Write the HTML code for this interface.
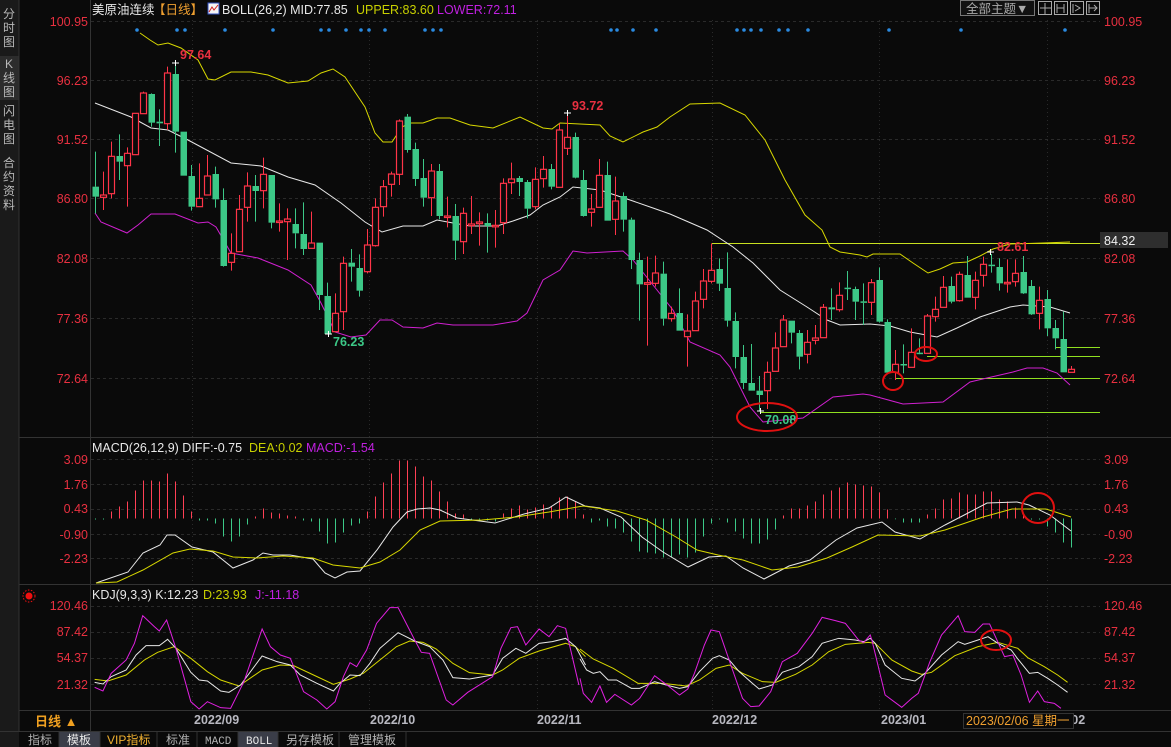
<!DOCTYPE html>
<html><head><meta charset="utf-8">
<style>
html,body{margin:0;padding:0;background:#0a0a0a;width:1171px;height:747px;overflow:hidden;}
svg{display:block;font-family:"Liberation Sans","Noto Sans CJK SC",sans-serif;}
</style></head>
<body>
<svg id="s" width="1171" height="747" viewBox="0 0 1171 747" xmlns="http://www.w3.org/2000/svg">
<rect width="1171" height="747" fill="#0a0a0a"/>
<!-- sidebar -->
<rect x="0" y="0" width="19" height="747" fill="#1a1a1a"/>
<rect x="0" y="56" width="19" height="44" fill="#2c2c2c"/>
<line x1="19" y1="0" x2="19" y2="732" stroke="#333"/>
<g fill="#b8b8b8" font-size="12" text-anchor="middle">
<text x="9" y="18">分</text><text x="9" y="32">时</text><text x="9" y="46">图</text>
<text x="9" y="68">K</text><text x="9" y="82">线</text><text x="9" y="96">图</text>
<text x="9" y="115">闪</text><text x="9" y="129">电</text><text x="9" y="143">图</text>
<text x="9" y="167">合</text><text x="9" y="181">约</text><text x="9" y="195">资</text><text x="9" y="209">料</text>
</g>
<g id="grid"></g>
<!-- panel lines -->
<g stroke="#333" stroke-width="1">
<line x1="90.5" y1="0" x2="90.5" y2="732"/>
<line x1="19" y1="437.5" x2="1171" y2="437.5"/>
<line x1="19" y1="584.5" x2="1171" y2="584.5"/>
<line x1="19" y1="710.5" x2="1171" y2="710.5"/>
<line x1="0" y1="731.5" x2="1171" y2="731.5"/>
</g>
<!-- header -->
<text x="92" y="14" font-size="12.5" fill="#e8e8e8">美原油连续</text>
<text x="153" y="14" font-size="12.5" fill="#f0a030">【日线】</text>
<rect x="208" y="3" width="11" height="11" fill="#f4f4f4" stroke="#3050c0"/>
<polyline points="209,12 212,7 214,10 218,5" fill="none" stroke="#d02020" stroke-width="1"/>
<text x="222" y="14" font-size="12.5" fill="#e8e8e8">BOLL(26,2) MID:77.85</text>
<text x="356" y="14" font-size="12.5" fill="#c8d000">UPPER:83.60</text>
<text x="437" y="14" font-size="12.5" fill="#c020e0">LOWER:72.11</text>
<rect x="960.5" y="0.5" width="74" height="15" fill="#111" stroke="#777"/>
<text x="966" y="13" font-size="12.5" fill="#aaa">全部主题▼</text>
<g fill="none" stroke="#aaa">
<rect x="1038.5" y="1.5" width="13" height="13"/><rect x="1054.5" y="1.5" width="13" height="13"/>
<rect x="1070.5" y="1.5" width="13" height="13"/><rect x="1086.5" y="1.5" width="13" height="13"/>
<path d="M1045 3v11M1040 8h11M1057 4v9M1064 4v9M1057 8h7M1073 4v9M1075 5l5 3-5 3M1089 4v9M1089 8h8M1094 5l3 3-3 3"/>
</g>
<!-- axis labels main -->
<g font-size="12.5" fill="#e83040">
<g text-anchor="end">
<text x="88" y="26">100.95</text><text x="88" y="85">96.23</text><text x="88" y="144">91.52</text>
<text x="88" y="203">86.80</text><text x="88" y="263">82.08</text><text x="88" y="323">77.36</text><text x="88" y="383">72.64</text>
<text x="88" y="464">3.09</text><text x="88" y="489">1.76</text><text x="88" y="513">0.43</text><text x="88" y="539">-0.90</text><text x="88" y="563">-2.23</text>
<text x="88" y="610">120.46</text><text x="88" y="636">87.42</text><text x="88" y="662">54.37</text><text x="88" y="689">21.32</text>
</g>
<text x="1104" y="26">100.95</text><text x="1104" y="85">96.23</text><text x="1104" y="144">91.52</text>
<text x="1104" y="203">86.80</text><text x="1104" y="263">82.08</text><text x="1104" y="323">77.36</text><text x="1104" y="383">72.64</text>
<text x="1104" y="464">3.09</text><text x="1104" y="489">1.76</text><text x="1104" y="513">0.43</text><text x="1104" y="539">-0.90</text><text x="1104" y="563">-2.23</text>
<text x="1104" y="610">120.46</text><text x="1104" y="636">87.42</text><text x="1104" y="662">54.37</text><text x="1104" y="689">21.32</text>
</g>
<g id="plot"></g>
<!-- annotations -->
<g font-size="12.5" font-weight="bold">
<text x="180" y="59" fill="#e83040">97.64</text>
<text x="572" y="110" fill="#e83040">93.72</text>
<text x="333" y="346" fill="#3cc887">76.23</text>
<text x="765" y="424" fill="#3cc887">70.08</text>
<text x="997" y="251" fill="#e83040">82.61</text>
</g>
<rect x="1100" y="232" width="68" height="16" fill="#2e2e2e"/>
<text x="1104" y="245" font-size="12.5" fill="#f0f0f0">84.32</text>
<g fill="none" stroke="#e01010" stroke-width="2">
<ellipse cx="767" cy="417" rx="30" ry="14"/>
<ellipse cx="893" cy="381" rx="10" ry="9"/>
<ellipse cx="926" cy="354" rx="11" ry="7"/>
<ellipse cx="1038" cy="508" rx="16" ry="15"/>
<ellipse cx="996" cy="640" rx="15" ry="10"/>
</g>
<!-- sub headers -->
<text x="92" y="452" font-size="12.5" fill="#e8e8e8">MACD(26,12,9) DIFF:-0.75</text>
<text x="249" y="452" font-size="12.5" fill="#c8d000">DEA:0.02</text>
<text x="306" y="452" font-size="12.5" fill="#c020e0">MACD:-1.54</text>
<text x="92" y="599" font-size="12.5" fill="#e8e8e8">KDJ(9,3,3) K:12.23</text>
<text x="203" y="599" font-size="12.5" fill="#c8d000">D:23.93</text>
<text x="255" y="599" font-size="12.5" fill="#c020e0">J:-11.18</text>
<circle cx="29" cy="596" r="3.5" fill="#f01010"/>
<circle cx="29" cy="596" r="6" fill="none" stroke="#f01010" stroke-dasharray="1.5,1.5"/>
<!-- date axis -->
<text x="35" y="726" font-size="13" font-weight="bold" fill="#f0a020">日线 ▲</text>
<g font-size="12.5" font-weight="bold" fill="#b8b8c0">
<text x="194" y="724">2022/09</text><text x="370" y="724">2022/10</text><text x="537" y="724">2022/11</text>
<text x="712" y="724">2022/12</text><text x="881" y="724">2023/01</text><text x="1040" y="724">2023/02</text>
</g>
<rect x="963.5" y="713.5" width="110" height="15" fill="#0a0a0a" stroke="#333"/>
<text x="966" y="725" font-size="12.5" fill="#f0a030">2023/02/06 星期一</text>
<!-- tabs -->
<rect x="59" y="732" width="41" height="15" fill="#3a3d48"/>
<rect x="238" y="732" width="40" height="15" fill="#3a3d48"/>
<g stroke="#333"><line x1="59" y1="732" x2="59" y2="747"/><line x1="100" y1="732" x2="100" y2="747"/><line x1="157" y1="732" x2="157" y2="747"/><line x1="197" y1="732" x2="197" y2="747"/><line x1="238" y1="732" x2="238" y2="747"/><line x1="278" y1="732" x2="278" y2="747"/><line x1="339" y1="732" x2="339" y2="747"/><line x1="406" y1="732" x2="406" y2="747"/></g>
<g font-size="12" fill="#b0b0b0">
<text x="28" y="744">指标</text><text x="67" y="744" fill="#e8e8e8">模板</text><text x="107" y="744" fill="#f0b030">VIP指标</text>
<text x="166" y="744">标准</text><text x="205" y="744" font-family="Liberation Mono" font-size="11">MACD</text>
<text x="246" y="744" font-family="Liberation Mono" font-size="11" fill="#e8e8e8">BOLL</text>
<text x="286" y="744">另存模板</text><text x="348" y="744">管理模板</text>
</g>
</svg>
<script>
var NS="http://www.w3.org/2000/svg";
var P=document.getElementById("plot"),GR=document.getElementById("grid");
function el(p,t,a){var e=document.createElementNS(NS,t);for(var k in a)e.setAttribute(k,a[k]);p.appendChild(e);return e;}
// grid
[21,80,139,198,258,318,378,459,484,509,534,558,606,632,658,684].forEach(function(y){el(GR,"line",{x1:91,x2:1100,y1:y+.5,y2:y+.5,stroke:"#2a2a2a","stroke-dasharray":"3,3"});});
[192,369,537,712,879,1047].forEach(function(x){el(GR,"line",{x1:x+.5,x2:x+.5,y1:20,y2:710,stroke:"#2a2a2a","stroke-dasharray":"1,3"});});
// dots
[137,177,185,225,273,321,329,346,361,369,385,425,433,441,611,617,633,656,737,744,751,761,779,788,808,889,961,1065].forEach(function(x){el(P,"circle",{cx:x,cy:30,r:1.8,fill:"#2a8ae0"});});
function pl(pts,c,w){el(P,"polyline",{points:pts.map(function(p){return p[0]+","+p[1];}).join(" "),fill:"none",stroke:c,"stroke-width":w||1});}
function zc(arr,ox,oy,sx,sy){return arr.map(function(p){return [ox+p[0]/sx,oy+p[1]/sy];});}
// horizontal marker lines
el(P,"line",{x1:712,x2:1100,y1:243.5,y2:243.5,stroke:"#c8e020"});
el(P,"line",{x1:760,x2:1100,y1:412.5,y2:412.5,stroke:"#90e020"});
el(P,"line",{x1:895,x2:1100,y1:378.5,y2:378.5,stroke:"#90e020"});
el(P,"line",{x1:927,x2:1100,y1:356.5,y2:356.5,stroke:"#90e020"});
el(P,"line",{x1:1055,x2:1100,y1:347.5,y2:347.5,stroke:"#90e020"});
// BOLL lines
var upper=[[140,33],[150,40],[158,45],[168,43],[181,48],[198,60],[208,79],[215,80],[231,72],[251,72],[268,75],[288,83],[308,81],[321,73],[333,69],[345,77],[365,107],[375,133],[383,142],[392,142],[402,127],[410,123],[423,123],[437,118],[450,118],[470,125],[493,128],[520,117],[543,128],[552,129],[560,123],[600,125],[610,136],[623,142],[643,132],[657,127],[670,117],[690,104],[720,103],[745,115],[765,140],[785,180],[805,215],[822,230],[830,247],[840,252],[860,255],[867,257],[873,254],[900,254],[913,263],[928,273],[940,269],[953,263],[967,262],[980,256],[993,249],[1010,244],[1043,243],[1070,242]];
var mid=[[95,103],[131,117],[151,128],[168,130],[188,140],[231,163],[261,166],[288,177],[315,185],[341,203],[365,222],[370,225],[382,232],[403,226],[423,226],[437,220],[453,223],[470,226],[497,226],[513,221],[530,215],[543,205],[560,197],[573,187],[600,190],[630,200],[653,208],[670,214],[707,230],[733,247],[753,263],[780,290],[807,307],[827,320],[840,325],[870,324],[890,326],[910,332],[937,337],[957,328],[980,317],[1010,307],[1023,305],[1050,307],[1070,313]];
var lower=[[95,213],[101,222],[127,233],[138,225],[151,214],[175,214],[198,223],[208,222],[216,227],[231,253],[258,258],[288,270],[311,285],[321,303],[335,332],[351,337],[366,335],[380,320],[392,320],[403,327],[423,328],[437,323],[453,325],[493,325],[517,321],[527,313],[543,280],[560,270],[573,251],[587,253],[623,251],[633,260],[653,285],[673,310],[690,342],[720,355],[730,367],[750,407],[763,422],[803,418],[833,397],[863,394],[870,395],[903,404],[943,402],[970,382],[987,378],[1013,372],[1027,368],[1043,368],[1057,373],[1070,385]];
pl(upper,"#d8d800");pl(mid,"#e8e8e8");pl(lower,"#d020d0");
// candles
var groups=[[40,0,[[440,470,335,520,'g'],[465,472,395,510,'r'],[349,461,305,475,'r'],[348,365,283,420,'g'],[340,377,322,500,'r'],[220,344,220,344,'r'],[159,221,155,221,'r'],[162,248,160,260,'g'],[245,250,208,318,'g'],[99,251,80,270,'r'],[102,275,70,338,'g'],[275,407,275,407,'g'],[408,500,375,512,'g'],[475,500,370,500,'r'],[408,465,345,465,'r'],[402,478,380,503,'g'],[480,678,445,680,'g'],[640,667,580,692,'r'],[508,635,465,635,'r'],[438,502,397,545,'r'],[438,453,405,545,'g'],[403,452,353,505,'r'],[405,548,405,565,'g'],[543,546,490,575,'r'],[537,545,505,660,'r'],[552,580,505,625,'g'],[582,627,487,645,'g'],[609,625,515,625,'r'],[608,765,608,810,'g'],[768,882,728,882,'g'],[820,875,760,875,'r'],[670,815,650,870,'r'],[668,680,627,725,'g'],[684,752,643,770,'g'],[615,695,567,700,'r'],[502,617,475,620,'r'],[440,500,420,530,'r']]],
[90,37,[[252,283,245,320,'r'],[93,253,88,285,'r'],[80,180,72,188,'g'],[177,267,158,288,'g'],[264,323,207,350,'g'],[243,323,222,378,'r'],[243,378,222,388,'g'],[378,381,320,412,'r'],[378,452,342,510,'g'],[370,455,353,492,'r'],[402,407,318,432,'r'],[396,401,367,467,'r'],[399,408,370,488,'g'],[406,409,360,473,'r'],[280,398,265,432,'r'],[267,278,218,312,'r'],[264,276,258,318,'g'],[276,356,270,385,'g'],[268,350,232,358,'r'],[238,266,198,293,'r'],[237,290,222,298,'g'],[120,292,100,292,'r'],[142,175,68,195,'r'],[141,263,128,265,'g'],[270,378,240,380,'g'],[357,367,312,410,'r'],[256,352,207,352,'r'],[255,392,215,392,'g'],[333,388,260,435,'r'],[318,389,307,425,'g'],[389,510,383,537,'g'],[510,583,488,692,'g'],[578,583,500,767,'r'],[549,580,497,590,'r'],[551,686,515,707,'g']]],
[230,72,[[250,266,230,275,'r'],[249,302,175,302,'g'],[303,320,253,410,'r'],[213,302,185,302,'r'],[153,208,117,235,'r'],[121,154,40,160,'r'],[117,161,85,183,'g'],[174,272,67,290,'g'],[273,381,247,415,'g'],[381,459,345,477,'g'],[459,482,342,482,'g'],[482,495,438,545,'g'],[427,482,395,537,'r'],[354,424,307,424,'r'],[270,350,255,350,'r'],[272,308,272,340,'g'],[309,380,300,418,'g'],[337,373,300,400,'r'],[324,331,285,343,'r'],[232,323,222,323,'r'],[232,238,175,270,'g'],[196,239,157,245,'r'],[173,176,123,210,'g'],[177,215,170,270,'g'],[214,217,160,285,'g'],[158,217,147,255,'r'],[150,275,112,278,'g']]],
[230,99,[[276,428,268,428,'g'],[403,427,360,450,'r'],[402,406,343,430,'g'],[367,412,295,412,'r'],[368,371,325,371,'g'],[258,370,252,370,'r'],[238,260,200,275,'r'],[172,232,138,232,'r'],[168,215,140,220,'g'],[133,212,125,215,'r'],[135,203,78,203,'g'],[151,202,125,238,'r'],[103,136,80,170,'r'],[104,108,72,128,'g'],[111,160,85,182,'g'],[157,160,88,188,'r'],[130,155,88,170,'r'],[126,190,78,192,'g'],[168,253,150,255,'g'],[211,250,170,298,'r'],[207,295,180,318,'g'],[294,325,270,358,'g'],[327,427,245,427,'g'],[418,427,408,427,'r']]]];
var RC="#ff3448",GC="#3cc887";
groups.forEach(function(g){var oy=g[0];g[2].forEach(function(c,j){var i=g[1]+j;var x=Math.round(95+8*i);
var bt=oy+c[0]/3,bb=oy+c[1]/3,wt=oy+c[2]/3,wb=oy+c[3]/3;if(bb-bt<1.5)bb=bt+1.5;
var col=c[4]=='r'?RC:GC;
el(P,"line",{x1:x+.5,x2:x+.5,y1:wt,y2:bt,stroke:col});el(P,"line",{x1:x+.5,x2:x+.5,y1:bb,y2:wb,stroke:col});
if(c[4]=='r')el(P,"rect",{x:x-2.5,y:bt,width:6,height:bb-bt,fill:"#0a0a0a",stroke:col,"stroke-width":1.2});
else el(P,"rect",{x:x-2.5,y:bt,width:6.5,height:bb-bt,fill:col});});});
// high/low crosses
[[175,63],[567,113],[328,334],[760,411],[990,252]].forEach(function(p){el(P,"path",{d:"M"+(p[0]-3)+" "+p[1]+"h7M"+(p[0]+.5)+" "+(p[1]-3)+"v6",stroke:"#fff"});});
// MACD bars
var mb=[-1,-1,7,12,17,28,38,38,37,45,37,23,7,-2,-2,-5,-18,-23,-18,-6,2,10,6,5,3,2,-2,-3,-13,-25,-24,-14,-7,-5,7,22,36,45,58,58,52,42,38,27,17,5,4,-1,-1,-2,-3,5,10,13,9,11,14,12,21,22,17,4,-4,-2,-8,-10,-14,-23,-33,-34,-35,-39,-39,-36,-39,-34,-18,-5,-1,-4,-13,-20,-25,-25,-21,-11,3,10,10,13,17,24,28,31,36,34,33,32,26,9,0,-4,-4,-4,4,10,19,20,26,24,24,27,27,19,17,11,4,-1,-1,-8,-14,-24,-29];
mb.forEach(function(v,i){var x=Math.round(95+8*i)+.5;var z=518.5;if(v==0)v=-.7;el(P,"line",{x1:x,x2:x,y1:z,y2:z-v,stroke:v>0?"#ff4055":GC});});
var dif=[[96,583],[128,572],[143,553],[160,545],[167,535],[175,535],[192,547],[213,552],[233,568],[253,560],[263,553],[273,555],[290,555],[313,559],[325,573],[335,578],[347,572],[360,571],[377,550],[393,527],[407,512],[417,509],[430,508],[440,510],[457,518],[495,523],[524,514],[549,508],[566,497],[585,506],[600,508],[621,517],[642,537],[663,552],[688,567],[709,557],[726,556],[743,568],[764,579],[789,566],[810,560],[836,540],[857,528],[882,522],[895,532],[920,539],[945,525],[970,512],[987,503],[1017,502],[1029,505],[1050,515],[1071,531]];
var dea=[[96,583],[117,582],[143,570],[173,553],[190,549],[213,551],[233,557],[257,558],[283,556],[313,558],[333,565],[360,568],[380,562],[400,550],[420,530],[440,521],[482,520],[516,517],[549,512],[583,506],[617,511],[646,520],[676,537],[697,550],[718,555],[743,560],[772,570],[798,567],[827,558],[852,547],[878,535],[920,536],[945,530],[983,517],[1012,509],[1046,509],[1071,517]];
pl(dif,"#e8e8e8");pl(dea,"#d8d800");
// KDJ
var K1=[[20,292],[45,297],[70,275],[115,255],[145,210],[175,182],[215,182],[240,163],[265,190],[310,262],[335,285],[360,288],[400,318],[425,322],[460,300],[525,213],[570,230],[610,240],[640,270],[690,295],[740,318],[760,295],[790,270],[820,272],[850,235],[880,190],[935,143],[985,168],[1030,185],[1070,225],[1100,278],[1150,282],[1220,270],[1250,220],[1290,190],[1320,205],[1360,175],[1400,170],[1440,160],[1470,185],[1500,240]];
var D1=[[20,283],[60,288],[115,270],[170,225],[210,202],[260,185],[310,220],[360,260],[400,285],[455,303],[525,255],[580,240],[620,242],[680,270],[740,298],[790,282],[830,265],[880,225],[930,185],[970,168],[1010,172],[1050,192],[1100,235],[1150,263],[1220,270],[1250,255],[1300,220],[1360,198],[1440,175],[1470,185],[1500,215]];
var J1=[[20,307],[45,318],[70,265],[115,225],[140,175],[165,92],[200,125],[215,138],[237,105],[265,190],[310,350],[335,372],[360,350],[400,368],[430,370],[470,290],[525,132],[550,185],[580,210],[610,220],[650,320],[690,345],[720,372],[745,350],[770,275],[790,233],[810,245],[840,195],[870,115],[910,68],[935,68],[985,165],[1005,202],[1030,205],[1080,345],[1100,360],[1145,322],[1220,275],[1245,190],[1275,128],[1295,125],[1320,180],[1360,132],[1390,155],[1415,122],[1440,130],[1480,300]];
var K2=[[0,222],[20,255],[40,265],[60,260],[85,285],[110,285],[155,310],[180,310],[225,290],[260,300],[300,310],[325,305],[360,260],[400,220],[420,212],[450,225],[480,260],[520,295],[540,312],[580,300],[610,262],[660,245],[700,215],[730,175],[780,160],[830,165],[855,170],[875,160],[890,175],[920,240],[970,280],[1010,288],[1040,265],[1090,210],[1140,170],[1160,178],[1200,165],[1230,155],[1260,175],[1300,195],[1320,222],[1355,265],[1380,262],[1410,280],[1440,300],[1470,322]];
var D2=[[0,192],[40,222],[100,250],[175,295],[250,295],[320,303],[360,285],[410,250],[450,240],[490,265],[550,290],[590,292],[650,268],[700,240],[750,200],[800,178],[870,172],[890,175],[940,225],[1000,258],[1030,268],[1060,262],[1130,212],[1200,185],[1260,172],[1320,190],[1350,218],[1400,245],[1440,270],[1470,292]];
var J2=[[0,280],[10,325],[35,352],[60,303],[80,352],[105,328],[155,360],[180,340],[225,272],[265,302],[300,330],[325,312],[345,265],[375,180],[395,135],[420,140],[460,255],[490,340],[515,365],[540,363],[575,320],[610,230],[655,205],[700,145],[730,97],[770,107],[800,115],[840,165],[855,173],[875,150],[880,165],[920,330],[970,367],[1000,340],[1020,325],[1055,230],[1090,150],[1140,92],[1160,140],[1190,142],[1215,117],[1235,117],[1280,215],[1305,210],[1330,270],[1355,352],[1380,318],[1400,350],[1430,355],[1450,370]];
function kk(a,ox){return zc(a,ox,585,3.015,3);}
pl(kk(D1,88),"#d8d800");pl(kk(D2,580),"#d8d800");
pl(kk(K1,88),"#e8e8e8");pl(kk(K2,580),"#e8e8e8");
pl(kk(J1,88),"#e020e0");pl(kk(J2,580),"#e020e0");
</script>
</body></html>
